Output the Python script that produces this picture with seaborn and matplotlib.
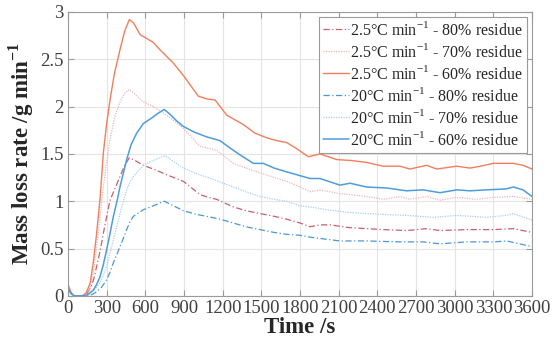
import matplotlib
matplotlib.use('Agg')
import matplotlib.pyplot as plt
import seaborn as sns
import numpy as np

# Daten: czas [s] i szybkosc ubytku masy [g/min]
t_25_80 = [0, 25, 50, 120, 150, 180, 200, 222, 250, 274, 300, 326, 360, 403, 440, 476, 520, 584, 680, 765,
           895, 960, 1024, 1090, 1153, 1282, 1380, 1489, 1600, 1697, 1800, 1878, 1955, 2032, 2188, 2446,
           2627, 2783, 2886, 3093, 3300, 3455, 3600]
v_25_80 = [0.10, 0.02, 0, 0, 0.03, 0.10, 0.18, 0.31, 0.48, 0.66, 0.84, 1.01, 1.12, 1.26, 1.38, 1.46, 1.43,
           1.38, 1.33, 1.28, 1.21, 1.14, 1.07, 1.04, 1.02, 0.94, 0.90, 0.87, 0.84, 0.81, 0.77, 0.73, 0.75,
           0.75, 0.72, 0.70, 0.69, 0.71, 0.69, 0.70, 0.70, 0.71, 0.67]

t_25_70 = [0, 25, 50, 110, 140, 171, 196, 222, 250, 274, 300, 326, 360, 403, 440, 476, 520, 584, 662, 765,
           895, 1024, 1153, 1282, 1380, 1489, 1600, 1697, 1800, 1878, 1955, 2110, 2317, 2446, 2575, 2653,
           2783, 2886, 3016, 3170, 3300, 3455, 3600]
v_25_70 = [0.11, 0.03, 0, 0, 0.02, 0.08, 0.25, 0.50, 0.85, 1.15, 1.42, 1.65, 1.88, 2.05, 2.14, 2.18, 2.13,
           2.05, 2.00, 1.91, 1.77, 1.58, 1.54, 1.40, 1.35, 1.30, 1.25, 1.21, 1.15, 1.10, 1.12, 1.08, 1.05,
           1.02, 1.05, 1.02, 1.05, 1.01, 1.04, 1.02, 1.04, 1.05, 1.02]

t_25_60 = [0, 25, 50, 110, 140, 171, 196, 222, 250, 274, 300, 326, 360, 403, 440, 476, 510, 560, 610, 660,
           714, 817, 900, 1011, 1080, 1141, 1231, 1360, 1450, 1541, 1620, 1697, 1780, 1865, 1955, 2085,
           2200, 2317, 2446, 2575, 2653, 2783, 2860, 3016, 3119, 3200, 3300, 3455, 3530, 3600]
v_25_60 = [0.12, 0.03, 0, 0, 0.03, 0.13, 0.35, 0.66, 1.05, 1.51, 1.82, 2.07, 2.35, 2.60, 2.80, 2.92, 2.88,
           2.76, 2.72, 2.68, 2.60, 2.46, 2.32, 2.11, 2.08, 2.07, 1.91, 1.81, 1.72, 1.67, 1.64, 1.62, 1.55,
           1.47, 1.50, 1.44, 1.43, 1.41, 1.37, 1.37, 1.34, 1.38, 1.34, 1.37, 1.35, 1.37, 1.40, 1.40, 1.38,
           1.34]

t_20_80 = [0, 50, 150, 180, 220, 260, 300, 326, 352, 380, 403, 430, 455, 480, 507, 584, 660, 747, 820,
           895, 1000, 1076, 1180, 1282, 1380, 1489, 1600, 1697, 1800, 1878, 2110, 2317, 2575, 2756, 2886,
           3093, 3300, 3403, 3600]
v_20_80 = [0.06, 0, 0, 0.01, 0.04, 0.09, 0.17, 0.25, 0.35, 0.44, 0.52, 0.61, 0.70, 0.78, 0.84, 0.91, 0.95,
           1.00, 0.95, 0.90, 0.86, 0.84, 0.81, 0.77, 0.73, 0.70, 0.67, 0.65, 0.64, 0.62, 0.58, 0.58, 0.57,
           0.57, 0.55, 0.57, 0.57, 0.58, 0.52]

t_20_70 = [0, 50, 140, 170, 200, 240, 270, 300, 326, 352, 380, 403, 430, 455, 480, 507, 550, 610, 680, 753,
           820, 895, 1000, 1128, 1282, 1380, 1489, 1600, 1697, 1800, 1878, 2007, 2188, 2446, 2627, 2834,
           3016, 3248, 3400, 3455, 3600]
v_20_70 = [0.05, 0, 0, 0.02, 0.06, 0.12, 0.20, 0.31, 0.45, 0.59, 0.74, 0.87, 1.00, 1.12, 1.20, 1.26, 1.33,
           1.40, 1.44, 1.48, 1.42, 1.35, 1.29, 1.23, 1.15, 1.10, 1.05, 1.02, 1.00, 0.95, 0.94, 0.91, 0.88,
           0.86, 0.85, 0.83, 0.85, 0.83, 0.85, 0.87, 0.80]

t_20_60 = [0, 25, 50, 130, 160, 196, 222, 248, 274, 300, 326, 352, 380, 403, 430, 455, 490, 533, 584, 650,
           700, 747, 790, 850, 895, 980, 1076, 1179, 1260, 1334, 1438, 1515, 1600, 1697, 1800, 1878, 1955,
           2110, 2188, 2317, 2472, 2627, 2756, 2886, 3016, 3119, 3248, 3400, 3455, 3530, 3600]
v_20_60 = [0.08, 0.02, 0, 0, 0.02, 0.06, 0.12, 0.20, 0.33, 0.49, 0.66, 0.84, 1.00, 1.15, 1.30, 1.44, 1.60,
           1.72, 1.82, 1.88, 1.93, 1.97, 1.92, 1.84, 1.79, 1.73, 1.68, 1.64, 1.56, 1.49, 1.40, 1.40, 1.35,
           1.31, 1.27, 1.24, 1.24, 1.17, 1.19, 1.15, 1.14, 1.11, 1.12, 1.09, 1.12, 1.11, 1.12, 1.13, 1.15,
           1.12, 1.05]

labels = ['2.5°C min$^{\\mathregular{-1}}$ - 80% residue',
          '2.5°C min$^{\\mathregular{-1}}$ - 70% residue',
          '2.5°C min$^{\\mathregular{-1}}$ - 60% residue',
          '20°C min$^{\\mathregular{-1}}$ - 80% residue',
          '20°C min$^{\\mathregular{-1}}$ - 70% residue',
          '20°C min$^{\\mathregular{-1}}$ - 60% residue']
xticks = list(range(0, 3601, 300))
yticks = [0, 0.5, 1, 1.5, 2, 2.5, 3]

sns.set_style('ticks')
plt.rcParams['font.family'] = ['Liberation Serif', 'DejaVu Serif']
plt.rcParams['mathtext.fontset'] = 'custom'
plt.rcParams['mathtext.rm'] = 'Liberation Serif'
plt.rcParams['mathtext.bf'] = 'Liberation Serif:bold'

fig = plt.figure(figsize=(5.53, 3.42), dpi=100)
ax = fig.add_subplot(111)

series = [(t_25_80, v_25_80, '#c8606e', (0, (5, 2, 1, 2)), 0.9),
          (t_25_70, v_25_70, '#f2b3bc', (0, (1, 1)), 0.9),
          (t_25_60, v_25_60, '#ef7f5c', '-', 1.0),
          (t_20_80, v_20_80, '#4c96d6', (0, (5, 2, 1, 2)), 0.9),
          (t_20_70, v_20_70, '#a9cdef', (0, (1, 1)), 0.9),
          (t_20_60, v_20_60, '#4f9cdc', '-', 1.1)]
for (t, v, c, ls, lw), lab in zip(series, labels):
    sns.lineplot(x=t, y=v, ax=ax, color=c, linestyle=ls, linewidth=lw, label=lab,
                 estimator=None, sort=False)

ax.set_xlim(0, 3600)
ax.set_ylim(0, 3)
ax.set_xticks(xticks)
ax.set_yticks(yticks)
ax.set_yticklabels(['0', '0.5', '1', '1.5', '2', '2.5', '3'])
ax.grid(True, color='#e4e4e4', linewidth=0.8)
ax.set_axisbelow(True)
for s in ax.spines.values():
    s.set_visible(True)
    s.set_color('#9a9a9a')
    s.set_linewidth(0.8)
ax.tick_params(direction='in', top=True, right=True, length=4, width=0.8,
               color='#9a9a9a', labelcolor='#404040', labelsize=13.5, pad=3)

ax.set_xlabel('Time /s', fontsize=16.5, fontweight='bold', labelpad=0)
ax.set_ylabel('Mass loss rate /g min$^{\\mathregular{-1}}$', fontsize=16.5, fontweight='bold', labelpad=3)

leg = ax.legend(loc='upper right', fontsize=11.5, frameon=True, fancybox=False, framealpha=1,
                edgecolor='#9a9a9a', borderaxespad=0.3, handlelength=1.6, handletextpad=0.1,
                labelspacing=0.25, borderpad=0.25)
leg.get_frame().set_linewidth(0.8)

plt.subplots_adjust(left=0.123, right=0.962, bottom=0.135, top=0.965)
plt.savefig('out.png', dpi=100)
